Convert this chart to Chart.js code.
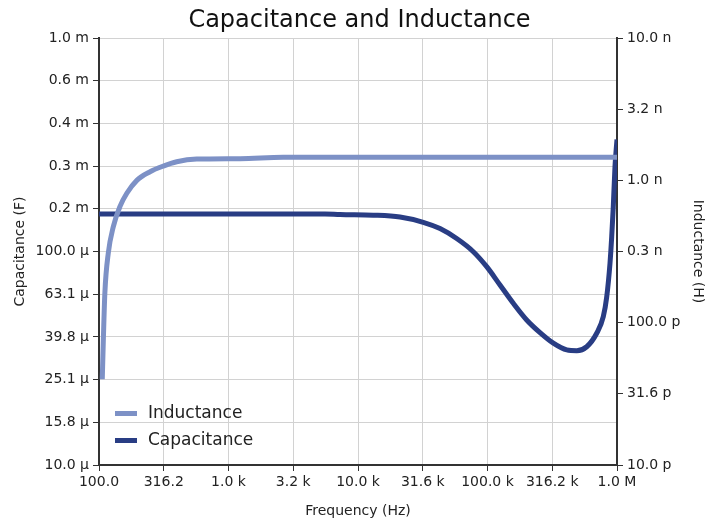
<!DOCTYPE html>
<html>
<head>
<meta charset="utf-8">
<script src="https://cdn.jsdelivr.net/npm/chart.js@4"></script>
<style>
  body { margin: 0; background: #fff; }
  canvas { display: block; }
</style>
</head>
<body>
<canvas id="chart" width="719" height="524"></canvas>
<script>

/* DATA */
const capFreq = [100, 5560, 7260, 13100, 21100, 31900, 43000, 57800, 77700, 98600, 124900, 158200, 200700, 254400, 322300, 409000, 488800, 583700, 697200, 783700, 832000, 882800, 910000, 936000, 965000, 1000000];
const capValues = [1.50e-4, 1.50e-4, 1.49e-4, 1.48e-4, 1.45e-4, 1.37e-4, 1.28e-4, 1.15e-4, 9.98e-5, 8.49e-5, 6.97e-5, 5.72e-5, 4.78e-5, 4.17e-5, 3.72e-5, 3.46e-5, 3.43e-5, 3.58e-5, 4.14e-5, 4.95e-5, 6.1e-5, 8.8e-5, 1.17e-4, 1.62e-4, 2.50e-4, 3.35e-4];

const indFreq = [106, 108, 111, 118, 129, 145, 164, 196, 248, 314, 398, 568, 1230, 2640, 1000000];
const indValues = [40e-12, 75e-12, 162e-12, 309e-12, 473e-12, 653e-12, 811e-12, 1.0e-9, 1.15e-9, 1.26e-9, 1.35e-9, 1.41e-9, 1.42e-9, 1.45e-9, 1.45e-9];

const freqTicks = [100, 316.2, 1e3, 3162, 1e4, 31623, 1e5, 316228, 1e6];
const freqLabels = ["100.0", "316.2", "1.0 k", "3.2 k", "10.0 k", "31.6 k", "100.0 k", "316.2 k", "1.0 M"];

const capTicks = [1e-5, 1.585e-5, 2.512e-5, 3.981e-5, 6.310e-5, 1e-4, 1.585e-4, 2.512e-4, 3.981e-4, 6.310e-4, 1e-3];
const capLabels = ["10.0 µ", "15.8 µ", "25.1 µ", "39.8 µ", "63.1 µ", "100.0 µ", "0.2 m", "0.3 m", "0.4 m", "0.6 m", "1.0 m"];

const indTicks = [1e-11, 3.162e-11, 1e-10, 3.162e-10, 1e-9, 3.162e-9, 1e-8];
const indLabels = ["10.0 p", "31.6 p", "100.0 p", "0.3 n", "1.0 n", "3.2 n", "10.0 n"];


const toPoints = (xs, ys) => xs.map((x, i) => ({ x: x, y: ys[i] }));

Chart.defaults.font.family = "DejaVu Sans";
Chart.defaults.color = "#222";


/* LEGEND INSIDE PLOT */
const insideLegend = {
  id: "insideLegend",
  afterDraw(chart) {
    const ctx = chart.ctx;
    const area = chart.chartArea;
    ctx.save();
    ctx.font = "17px 'DejaVu Sans'";
    ctx.textBaseline = "middle";
    chart.data.datasets.forEach((ds, i) => {
      const y = area.bottom - 51.5 + i * 27;
      ctx.strokeStyle = ds.borderColor;
      ctx.lineWidth = 5;
      ctx.beginPath();
      ctx.moveTo(area.left + 16, y);
      ctx.lineTo(area.left + 38, y);
      ctx.stroke();
      ctx.fillStyle = "#222";
      ctx.fillText(ds.label, area.left + 49, y);
    });
    ctx.restore();
  }
};


const setTicks = (values) => (scale) => {
  scale.ticks = values.map(v => ({ value: v }));
};

new Chart(document.getElementById("chart"), {

  type: "line",

  data: {
    datasets: [
      {
        label: "Inductance",
        data: toPoints(indFreq, indValues),
        yAxisID: "y1",
        borderColor: "#7d91c6",
        borderWidth: 5,
        pointRadius: 0,
        cubicInterpolationMode: "monotone",
        fill: false
      },
      {
        label: "Capacitance",
        data: toPoints(capFreq, capValues),
        yAxisID: "y",
        borderColor: "#293d84",
        borderWidth: 5,
        pointRadius: 0,
        cubicInterpolationMode: "monotone",
        fill: false
      }
    ]
  },

  options: {
    responsive: false,
    animation: false,
    plugins: {
      legend: { display: false },
      tooltip: { enabled: false },
      title: {
        display: true,
        text: "Capacitance and Inductance",
        font: { size: 24, weight: "normal" },
        color: "#111",
        padding: { top: 6.5, bottom: 2.7 }
      }
    },
    scales: {
      x: {
        type: "logarithmic",
        min: 100,
        max: 1e6,
        afterBuildTicks: setTicks(freqTicks),
        afterFit: (s) => { s.height = 59; },
        ticks: {
          autoSkip: false,
          maxRotation: 0,
          font: { size: 14 },
          padding: 3,
          callback: (v, i) => freqLabels[i]
        },
        grid: { color: "#d2d2d2", tickColor: "#333", tickLength: 6 },
        border: { color: "#333", width: 2 },
        title: {
          display: true,
          text: "Frequency (Hz)",
          font: { size: 14 },
          padding: { top: 0, bottom: 4 }
        }
      },
      y: {
        type: "logarithmic",
        position: "left",
        min: 1e-5,
        max: 1e-3,
        afterBuildTicks: setTicks(capTicks),
        afterFit: (s) => { s.width = 99; },
        ticks: {
          autoSkip: false,
          font: { size: 14 },
          padding: 4,
          callback: (v, i) => capLabels[i]
        },
        grid: { color: "#d2d2d2", tickColor: "#333", tickLength: 6 },
        border: { color: "#333", width: 2 },
        title: {
          display: true,
          text: "Capacitance (F)",
          font: { size: 14 },
          padding: { top: 11.6, bottom: 0 }
        }
      },
      y1: {
        type: "logarithmic",
        position: "right",
        min: 1e-11,
        max: 1e-8,
        afterBuildTicks: setTicks(indTicks),
        afterFit: (s) => { s.width = 102; },
        ticks: {
          autoSkip: false,
          font: { size: 14 },
          padding: 4,
          callback: (v, i) => indLabels[i]
        },
        grid: { drawOnChartArea: false, tickColor: "#333", tickLength: 6 },
        border: { color: "#333", width: 2 },
        title: {
          display: true,
          text: "Inductance (H)",
          font: { size: 14 },
          padding: { top: 12.6, bottom: 0 }
        }
      }
    }
  },

  plugins: [insideLegend]

});

</script>
</body>
</html>
